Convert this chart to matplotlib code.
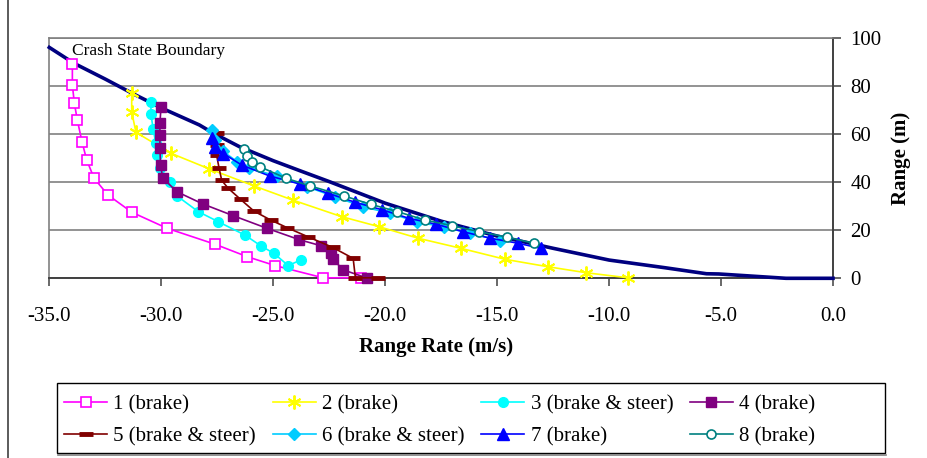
import matplotlib
matplotlib.use('Agg')
import matplotlib.pyplot as plt
from matplotlib.patches import Rectangle
from matplotlib.lines import Line2D

plt.rcParams['font.family'] = ['Liberation Serif', 'DejaVu Serif']
plt.rcParams['axes.unicode_minus'] = False

# ---------------- data ----------------
x_ticks = [-35, -30, -25, -20, -15, -10, -5, 0]
x_tick_labels = ['-35.0', '-30.0', '-25.0', '-20.0', '-15.0', '-10.0', '-5.0', '0.0']
y_ticks = [0, 20, 40, 60, 80, 100]
y_tick_labels = ['0', '20', '40', '60', '80', '100']

boundary_x = [-35.0, -33.9, -32.5, -31.3, -30.0, -28.3, -27.7, -26.5, -25.0, -23.8, -22.5,
              -20.0, -17.5, -15.0, -14.2, -12.5, -10.0, -7.5, -5.65, -5.1, -2.1, 0.0]
boundary_y = [96.2, 89.6, 83.0, 77.1, 71.0, 63.9, 60.6, 54.8, 49.0, 44.8, 40.3,
              31.3, 23.8, 17.6, 16.0, 12.5, 7.6, 4.4, 1.9, 1.8, 0.0, 0.0]

s1_x = [-33.97, -33.97, -33.88, -33.75, -33.54, -33.33, -33.0, -32.38, -31.31, -29.73,
        -27.6, -26.16, -24.92, -22.77, -21.08]
s1_y = [89.3, 80.5, 72.9, 66.0, 56.9, 49.3, 41.7, 34.7, 27.5, 20.8, 14.2, 9.0, 5.3, 0.2, 0.2]

s2_x = [-31.32, -31.32, -31.13, -29.57, -27.86, -25.86, -24.13, -21.95, -20.27, -18.53,
        -16.62, -14.64, -12.72, -11.01, -9.15]
s2_y = [77.1, 69.4, 60.8, 52.1, 45.6, 38.5, 32.6, 25.7, 21.5, 16.7, 12.5, 7.9, 4.8, 2.3, 0.2]

s3_x = [-30.46, -30.46, -30.36, -30.25, -30.18, -30.05, -29.62, -29.31, -28.35, -27.46,
        -26.26, -25.55, -24.97, -24.33, -23.78]
s3_y = [73.6, 68.3, 62.2, 56.5, 51.4, 46.0, 40.0, 34.4, 27.8, 23.6, 18.0, 13.5, 10.4, 5.3, 7.6]

s4_x = [-30.01, -30.06, -30.06, -30.06, -30.03, -29.94, -29.31, -28.15, -26.79, -25.27,
        -23.84, -22.88, -22.44, -22.35, -21.87, -20.83]
s4_y = [71.5, 64.6, 59.7, 54.2, 47.2, 41.9, 36.1, 31.0, 26.1, 20.8, 16.1, 13.6, 10.6, 8.1, 3.5, 0.2]

s5_x = [-27.53, -27.5, -27.53, -27.42, -27.3, -27.01, -26.46, -25.86, -25.12, -24.38,
        -23.45, -22.35, -21.43, -21.33, -20.31]
s5_y = [60.4, 55.7, 51.4, 46.0, 40.8, 37.5, 32.9, 28.0, 24.3, 21.1, 17.3, 12.9, 8.3, 0.2, 0.2]

s6_x = [-27.75, -27.6, -27.25, -26.6, -26.08, -24.82, -23.51, -22.25, -20.98, -19.79,
        -18.6, -17.38, -16.19, -14.88]
s6_y = [61.8, 57.5, 53.0, 48.5, 45.8, 42.6, 38.2, 34.0, 29.8, 27.1, 23.6, 21.3, 18.8, 15.7]

s7_x = [-27.75, -27.6, -27.23, -26.41, -25.15, -23.81, -22.57, -21.35, -20.12, -18.94,
        -17.71, -16.52, -15.3, -14.06, -13.06]
s7_y = [58.3, 54.8, 52.0, 47.2, 42.6, 39.3, 35.5, 31.7, 28.5, 25.0, 22.5, 19.4, 16.7, 14.6, 12.5]

s8_x = [-26.3, -26.19, -25.96, -25.6, -24.43, -23.36, -21.83, -20.64, -19.46, -18.23,
        -17.01, -15.79, -14.54, -13.36]
s8_y = [53.7, 51.0, 48.6, 46.5, 41.7, 38.5, 34.3, 30.8, 27.8, 24.3, 21.9, 19.4, 17.1, 14.6]

series_labels = ['1 (brake)', '2 (brake)', '3 (brake & steer)', '4 (brake)',
                 '5 (brake & steer)', '6 (brake & steer)', '7 (brake)', '8 (brake)']

# ---------------- styles ----------------
styles = [
    dict(color='#FF00FF', marker='s', ms=6.5, mfc='white', mec='#FF00FF', mew=1.2),
    dict(color='#FFFF00', marker=(6, 2, 0), ms=10, mec='#FFFF00', mew=1.4),
    dict(color='#00FFFF', marker='o', ms=7, mfc='#00FFFF', mec='#00FFFF'),
    dict(color='#800080', marker='s', ms=7, mfc='#800080', mec='#800080'),
    dict(color='#800000', marker='_', ms=10, mec='#800000', mew=3.5),
    dict(color='#00CCFF', marker='D', ms=6, mfc='#00CCFF', mec='#00CCFF'),
    dict(color='#0000FF', marker='^', ms=8, mfc='#0000FF', mec='#0000FF'),
    dict(color='#008080', marker='o', ms=6.5, mfc='white', mec='#008080', mew=1.2),
]

W, H = 927, 458
fig = plt.figure(figsize=(W / 100, H / 100), dpi=100)
fig.patch.set_facecolor('white')
ax = fig.add_axes([49.3 / W, 1 - 278.3 / H, (833 - 49.3) / W, (278.3 - 38.3) / H])

ax.set_xlim(-35, 0)
ax.set_ylim(0, 100)

ax.grid(axis='y', color='#808080', lw=1.2)
ax.set_axisbelow(True)

ax.plot(boundary_x, boundary_y, color='#000080', lw=2.6, zorder=3, clip_on=False)

data = [(s1_x, s1_y), (s2_x, s2_y), (s3_x, s3_y), (s4_x, s4_y),
        (s5_x, s5_y), (s6_x, s6_y), (s7_x, s7_y), (s8_x, s8_y)]
handles = []
for i, ((xs, ys), st, lab) in enumerate(zip(data, styles, series_labels)):
    h, = ax.plot(xs, ys, lw=1.2, label=lab, zorder=4 + i, clip_on=False, **st)
    handles.append(h)

ax.yaxis.tick_right()
ax.set_xticks(x_ticks)
ax.set_xticklabels(x_tick_labels)
ax.set_yticks(y_ticks)
ax.set_yticklabels(y_tick_labels)
ax.tick_params(axis='both', direction='out', length=5.5, width=1.1, colors='#404040',
               labelcolor='black', labelsize=15)
ax.tick_params(axis='x', pad=15.5)
ax.tick_params(axis='y', pad=7)

for side in ['left', 'top']:
    ax.spines[side].set_color('#808080')
    ax.spines[side].set_linewidth(1.2)
for side in ['right', 'bottom']:
    ax.spines[side].set_color('#404040')
    ax.spines[side].set_linewidth(1.4)

fig.text(72 / W, 1 - 50.7 / H, 'Crash State Boundary', ha='left', va='center', fontsize=12.5)
fig.text(436.5 / W, 1 - 347 / H, 'Range Rate (m/s)', ha='center', va='center',
         fontsize=15, fontweight='bold')
fig.text(901 / W, 1 - 158 / H, 'Range (m)', ha='center', va='center', rotation=90,
         fontsize=15, fontweight='bold')

order = [0, 4, 1, 5, 2, 6, 3, 7]
fig.legend([handles[i] for i in order], [series_labels[i] for i in order], ncol=4,
           loc='upper left', bbox_to_anchor=(64 / W, 1 - 394.5 / H), frameon=False,
           fontsize=15, handlelength=2.07, handletextpad=0.3, columnspacing=0.8,
           labelspacing=0.62, borderpad=0, borderaxespad=0)

fig.patches.append(Rectangle((57 / W, 1 - 453 / H), (885 - 57) / W, 70 / H,
                             transform=fig.transFigure, fill=False, edgecolor='black', lw=1.0))
fig.lines.append(Line2D([58 / W, 886 / W], [1 - 454.5 / H, 1 - 454.5 / H],
                        transform=fig.transFigure, color='#808080', lw=1.2))
fig.lines.append(Line2D([8 / W, 8 / W], [0, 1], transform=fig.transFigure,
                        color='#404040', lw=1.2))

fig.savefig('out.png', dpi=100, facecolor='white')
